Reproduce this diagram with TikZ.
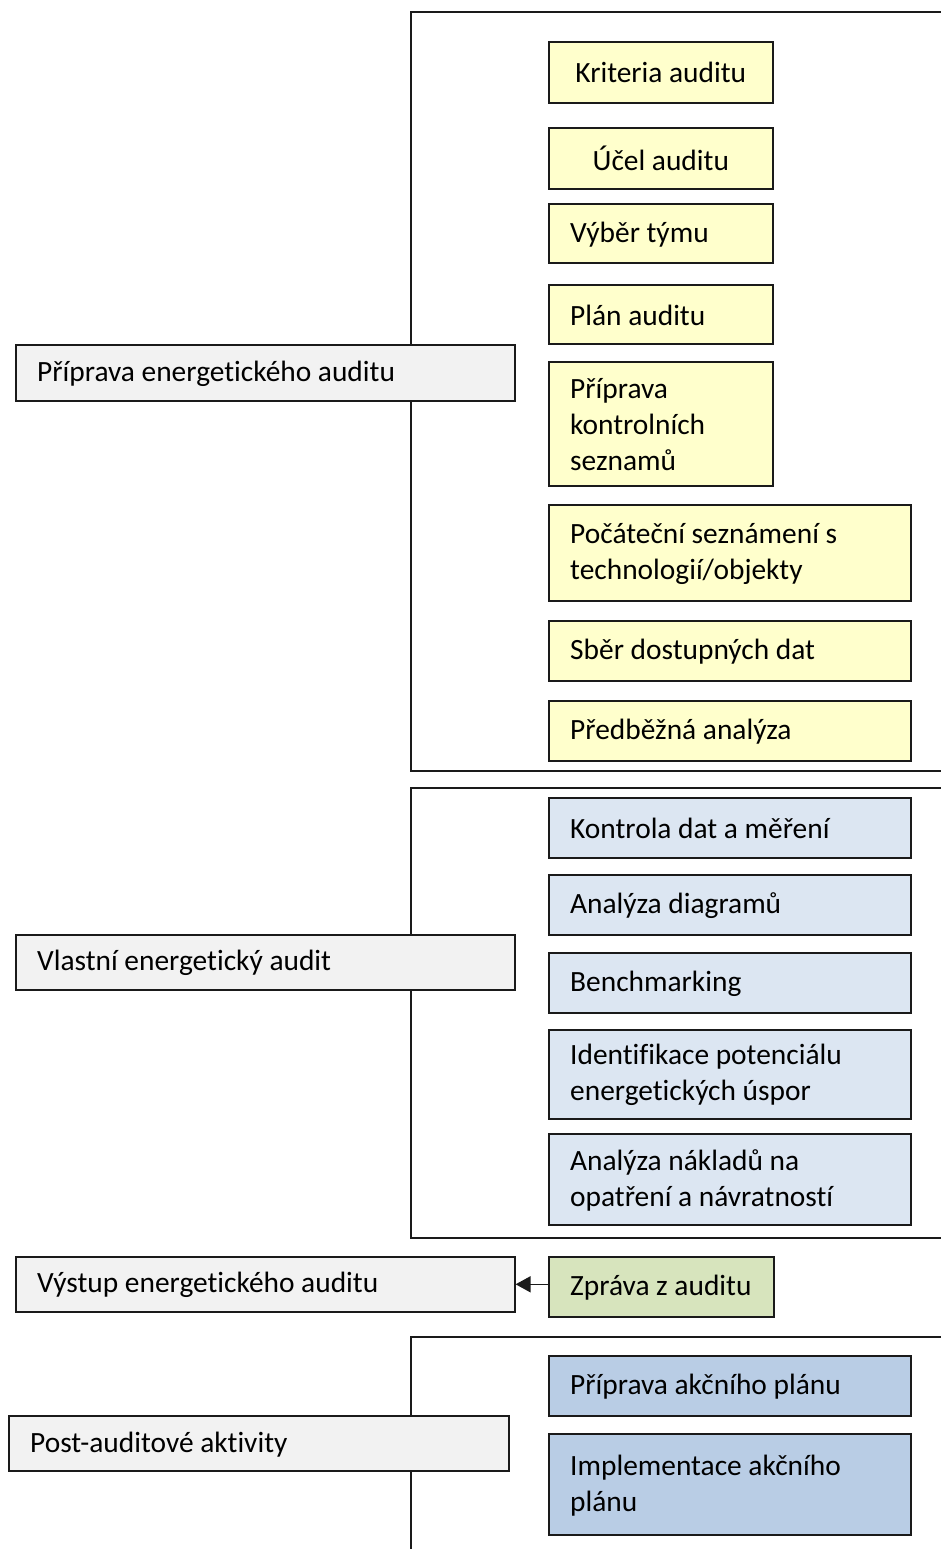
\documentclass[tikz,border=0pt]{standalone}
\usepackage{fontspec}
\setmainfont{Carlito}[Ligatures=NoCommon]
\usetikzlibrary{arrows.meta,calc}
\definecolor{greyfill}{HTML}{F2F2F2}
\definecolor{yelfill}{HTML}{FFFFCC}
\definecolor{lbfill}{HTML}{DCE6F2}
\definecolor{grfill}{HTML}{D7E4BD}
\definecolor{dbfill}{HTML}{B9CDE5}
\definecolor{edge}{HTML}{1A1A1A}
\tikzset{
  box/.style={draw=edge, line width=1.6pt, anchor=north west, inner sep=0pt,
    font=\fontsize{29.4}{36}\selectfont, align=left},
  grey/.style={box, fill=greyfill},
  yel/.style={box, fill=yelfill},
  lb/.style={box, fill=lbfill},
  gr/.style={box, fill=grfill},
  db/.style={box, fill=dbfill},
  bracket/.style={draw=edge, line width=1.6pt},
  arr/.style={draw=edge, line width=1.6pt, -{Triangle[length=15pt,width=16pt]}}
}
\newcommand{\bx}[7]{% style, name, x1, y1, x2, y2, text
  \node[#1, minimum width=#5pt-#3pt, minimum height=#6pt-#4pt] (#2) at (#3pt,-#4pt) {};
  \node[font=\fontsize{29.4}{36}\selectfont, anchor=west, align=left, inner sep=0pt] at ($(#2.west)+(22pt,-1pt)$) {#7};}
\begin{document}
\begin{tikzpicture}[x=1pt,y=1pt]
\useasboundingbox (0,0) rectangle (941,-1549);
% brackets
\coordinate (b1a) at (941,-12); \coordinate (b1b) at (411,-12);
\coordinate (b1c) at (411,-771); \coordinate (b1d) at (941,-771);
\draw[bracket] (b1a) -- (b1b) -- (b1c) -- (b1d);
\coordinate (b2a) at (941,-788); \coordinate (b2b) at (411,-788);
\coordinate (b2c) at (411,-1238); \coordinate (b2d) at (941,-1238);
\draw[bracket] (b2a) -- (b2b) -- (b2c) -- (b2d);
\coordinate (b4a) at (941,-1337); \coordinate (b4b) at (411,-1337);
\coordinate (b4c) at (411,-1549);
\draw[bracket] (b4a) -- (b4b) -- (b4c);
% left boxes
\bx{grey}{g1}{15}{344}{514}{400}{Příprava energetického auditu}
\bx{grey}{g2}{15}{934}{514}{989}{Vlastní energetický audit}
\bx{grey}{g3}{15}{1256}{514}{1311}{Výstup energetického auditu}
\bx{grey}{g4}{8}{1415}{508}{1470}{Post-auditové aktivity}
% yellow
\node[yel, minimum width=224pt, minimum height=61pt, align=center] (y1) at (548,-41) {Kriteria auditu};
\node[yel, minimum width=224pt, minimum height=61pt, align=center] (y2) at (548,-127) {Účel auditu};
\bx{yel}{y3}{548}{203}{772}{262}{Výběr týmu}
\bx{yel}{y4}{548}{284}{772}{343}{Plán auditu}
\bx{yel}{y5}{548}{361}{772}{485}{Příprava\\kontrolních\\seznamů}
\bx{yel}{y6}{548}{504}{910}{600}{Počáteční seznámení s\\technologií/objekty}
\bx{yel}{y7}{548}{620}{910}{680}{Sběr dostupných dat}
\bx{yel}{y8}{548}{700}{910}{760}{Předběžná analýza}
% light blue
\bx{lb}{l1}{548}{797}{910}{857}{Kontrola dat a měření}
\bx{lb}{l2}{548}{874}{910}{934}{Analýza diagramů}
\bx{lb}{l3}{548}{952}{910}{1012}{Benchmarking}
\bx{lb}{l4}{548}{1029}{910}{1118}{Identifikace potenciálu\\energetických úspor}
\bx{lb}{l5}{548}{1133}{910}{1224}{Analýza nákladů na\\opatření a návratností}
% green
\bx{gr}{z1}{548}{1256}{773}{1316}{Zpráva z auditu}
% dark blue
\bx{db}{d1}{548}{1355}{910}{1415}{Příprava akčního plánu}
\bx{db}{d2}{548}{1433}{910}{1534}{Implementace akčního\\plánu}
% arrow
\draw[arr] (z1.west |- g3.east) -- (g3.east);
\end{tikzpicture}
\end{document}
